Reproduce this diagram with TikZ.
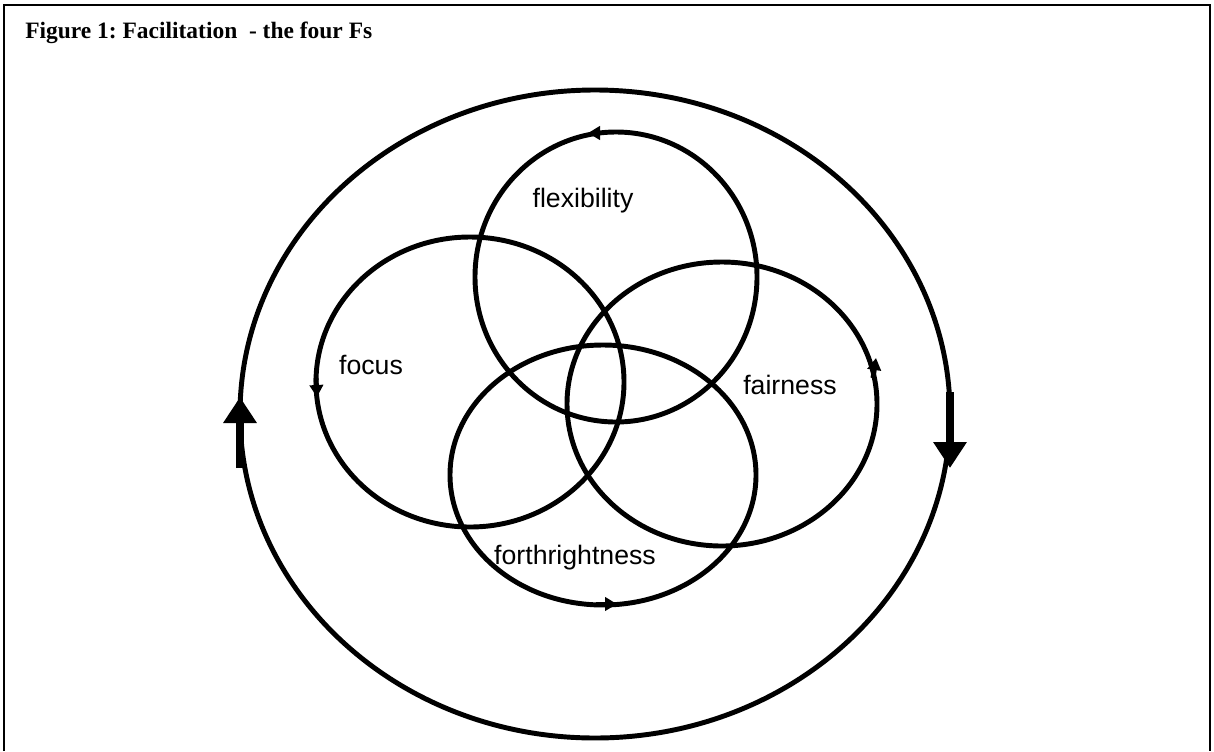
\documentclass[tikz,border=0pt]{standalone}
\usepackage{fontspec}
\setmainfont{Liberation Serif}
\setsansfont{Liberation Sans}
\usetikzlibrary{arrows.meta}
\frenchspacing

\begin{document}
\begin{tikzpicture}[x=0.75pt, y=-0.75pt,
    frame/.style={draw, line width=1.6pt},
    ring/.style={draw, line width=3.7pt},
    word/.style={font=\sffamily\fontsize{20}{24}\selectfont, anchor=base},
    turn/.style={-{Triangle[length=9pt, width=10pt]}, line width=3.7pt},
    bigturn/.style={-{Triangle[length=19.5pt, width=24pt]}, line width=6pt}]

    \useasboundingbox (0,0) rectangle (1214,751);
    \draw [frame] (4,751) -- (4,5) -- (1210,5) -- (1210,751);
    \node [anchor=base west, inner sep=0pt, font=\bfseries\fontsize{17.6}{21}\selectfont] (title) at (25,38) {Figure 1: Facilitation\ \ - the four Fs};

    % outer cycle
    \draw [ring] (595,414) ellipse [x radius=355, y radius=324];
    \draw [bigturn] (240,468) -- (240,397);
    \draw [bigturn] (950,392) -- (950,468);

    % the four Fs
    \draw [ring] (616,277) ellipse [x radius=141, y radius=145];
    \draw [ring] (470,382) ellipse [x radius=154, y radius=145];
    \draw [ring] (722,404) ellipse [x radius=155, y radius=142];
    \draw [ring] (603,475) ellipse [x radius=153, y radius=130];

    \draw [turn] (606,133) -- (588,133);
    \draw [turn] (316,378) -- (317,397);
    \draw [turn] (873,378) -- (876,358);
    \draw [turn] (596,604) -- (617,604);

    \node [word] (flexibility) at (583,207) {flexibility};
    \node [word] (focus) at (371,374) {focus};
    \node [word] (fairness) at (790,394) {fairness};
    \node [word] (forthrightness) at (575,564) {forthrightness};
\end{tikzpicture}
\end{document}
